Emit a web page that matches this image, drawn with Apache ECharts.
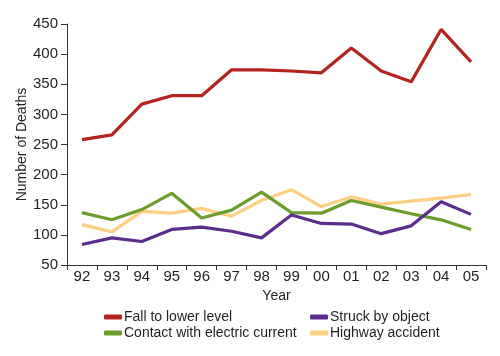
<!DOCTYPE html>
<html><head><meta charset="utf-8">
<script src="https://cdn.jsdelivr.net/npm/echarts@6/dist/echarts.min.js"></script>
<style>html,body{margin:0;padding:0;background:#fff}#c{width:500px;height:356px}</style>
</head><body><div id="c"></div>
<script>
var years = ['92','93','94','95','96','97','98','99','00','01','02','03','04','05'];
var fallToLowerLevel = [258, 266, 317, 331, 331, 374, 374, 372, 369, 410, 372, 354, 441, 387];
var contactElectric = [137, 125, 142, 169, 128, 141, 171, 137, 136, 157, 146, 135, 125, 109];
var struckByObject = [84, 95, 89, 109, 113, 106, 95, 133, 119, 118, 102, 115, 155, 134];
var highwayAccident = [117, 105, 139, 136, 144, 131, 157, 175, 147, 163, 151, 156, 161, 167];
var yTicks = [50, 100, 150, 200, 250, 300, 350, 400, 450];

var textColor = '#231f20';
var font = 'Liberation Sans';
var colors = {fall:'#b3241e', contact:'#6b9c2c', struck:'#5b2d8c', highway:'#fccf84'};
function s(name, data, color){
  return {name:name, type:'line', data:data, symbol:'none', smooth:false,
    lineStyle:{width:3.2, color:color}, itemStyle:{color:color}};
}
var chart = echarts.init(document.getElementById('c'), null, {renderer:'canvas'});
chart.setOption({
  animation:false,
  textStyle:{fontFamily:font, color:textColor},
  grid:{left:67, right:14, top:24, bottom:91, containLabel:false},
  xAxis:{type:'category', data:years, boundaryGap:true,
    name:'Year', nameLocation:'middle', nameGap:24, nameMoveOverlap:false,
    nameTextStyle:{fontFamily:font, fontSize:14, color:textColor},
    axisLine:{lineStyle:{color:'#333', width:1}},
    axisTick:{show:true, length:5, lineStyle:{color:'#333'}},
    axisLabel:{fontFamily:font, fontSize:15, color:textColor, margin:4}},
  yAxis:{type:'value', min:yTicks[0], max:yTicks[yTicks.length-1], interval:50,
    name:'Number of Deaths', nameLocation:'middle', nameGap:38, nameMoveOverlap:false,
    nameTextStyle:{fontFamily:font, fontSize:14, color:textColor},
    axisLine:{show:true, lineStyle:{color:'#333', width:1}},
    axisTick:{show:true, length:6, lineStyle:{color:'#333'}},
    splitLine:{show:false},
    axisLabel:{fontFamily:font, fontSize:15, color:textColor, margin:9}},
  legend:[
    {left:99, top:305, orient:'vertical', itemGap:2, itemWidth:18, itemHeight:5, icon:'roundRect',
     textStyle:{fontFamily:font, fontSize:14, color:textColor, padding:[0,0,0,-3]},
     data:['Fall to lower level','Contact with electric current']},
    {left:305, top:305, orient:'vertical', itemGap:2, itemWidth:18, itemHeight:5, icon:'roundRect',
     textStyle:{fontFamily:font, fontSize:14, color:textColor, padding:[0,0,0,-3]},
     data:['Struck by object','Highway accident']}
  ],
  series:[
    s('Highway accident', highwayAccident, colors.highway),
    s('Contact with electric current', contactElectric, colors.contact),
    s('Struck by object', struckByObject, colors.struck),
    s('Fall to lower level', fallToLowerLevel, colors.fall)
  ]
});
</script></body></html>
